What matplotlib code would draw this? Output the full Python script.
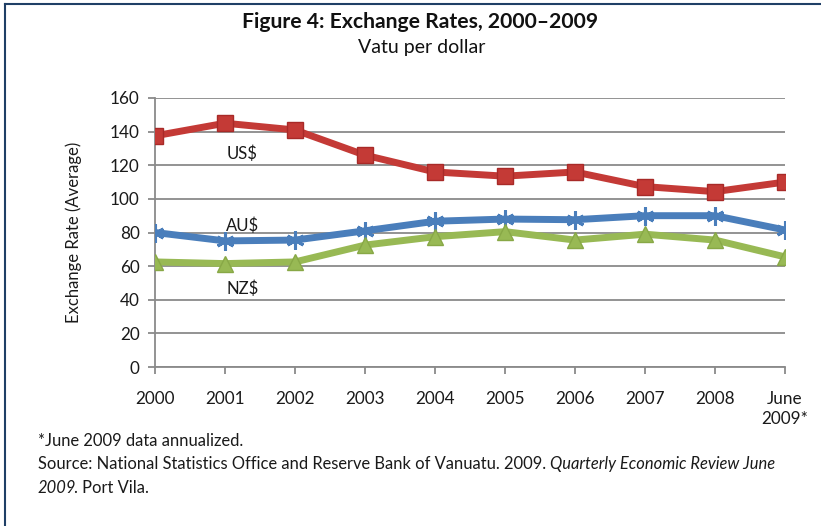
import numpy as np
import matplotlib
matplotlib.use("Agg")
import matplotlib.pyplot as plt
from matplotlib.lines import Line2D

plt.rcParams['font.family'] = ['Lato', 'DejaVu Sans']

years = ['2000', '2001', '2002', '2003', '2004', '2005', '2006', '2007', '2008', 'June\n2009*']
usd = [137.5, 145, 141, 126, 116, 113.5, 116, 107.3, 104.3, 110]
aud = [80, 75, 75.5, 81, 86.7, 88, 87.6, 90, 90, 81.5]
nzd = [62.5, 61.5, 62.5, 72.5, 77.5, 80.5, 75.5, 79, 75.5, 65.5]
yticks = [0, 20, 40, 60, 80, 100, 120, 140, 160]

fig = plt.figure(figsize=(8.21, 5.26), dpi=100)
ax = fig.add_axes([155 / 821, 1 - 367 / 526, 630 / 821, 269 / 526])

x = np.arange(len(years))
ax.plot(x, usd, color='#C43A36', lw=5, marker='s', ms=11, mfc='#C43A36', mec='#A82A28', zorder=3)
ax.plot(x, aud, color='#4A7EBB', lw=5, marker=(6, 2, 0), ms=13, mew=2.2, mec='#4A7EBB', zorder=3)
ax.plot(x, nzd, color='#98B954', lw=5, marker='^', ms=11, mfc='#98B954', mec='#88A846', zorder=3)

ax.set_xlim(0, 9)
ax.set_ylim(0, 160)
ax.set_yticks(yticks)
ax.set_xticks(x)
ax.set_xticklabels(years, linespacing=1.35)
ax.grid(axis='y', color='#8a8a8a', lw=1.3)
ax.set_axisbelow(True)
for s in ['top', 'right']:
    ax.spines[s].set_visible(False)
for s in ['left', 'bottom']:
    ax.spines[s].set_color('#8a8a8a')
    ax.spines[s].set_linewidth(1.3)
ax.tick_params(axis='both', colors='#8a8a8a', labelcolor='#1a1a1a', labelsize=12.3, length=5, width=1.3)
ax.tick_params(axis='x', pad=12)
ax.tick_params(axis='y', pad=6)
ax.set_ylabel('Exchange Rate (Average)', fontsize=12, color='#1a1a1a', labelpad=20)

ax.text(1.25, 127, 'US$', fontsize=12, ha='center', va='center', color='#1a1a1a')
ax.text(1.25, 84, 'AU$', fontsize=12, ha='center', va='center', color='#1a1a1a')
ax.text(1.25, 46.5, 'NZ$', fontsize=12, ha='center', va='center', color='#1a1a1a')

fig.text(420 / 821, 1 - 22 / 526, 'Figure 4: Exchange Rates, 2000\u20132009', fontsize=15.2,
         fontweight='bold', ha='center', va='center', color='#111111')
fig.text(422 / 821, 1 - 48 / 526, 'Vatu per dollar', fontsize=14, ha='center', va='center', color='#111111')

fs = 11.9
fig.text(38 / 821, 1 - 441 / 526, '*June 2009 data annualized.', fontsize=fs, va='center', color='#1a1a1a')
t1 = fig.text(38 / 821, 1 - 464 / 526,
              'Source: National Statistics Office and Reserve Bank of Vanuatu. 2009. ',
              fontsize=fs, va='center', color='#1a1a1a')
fig.canvas.draw()
bb = t1.get_window_extent()
fig.text(bb.x1 / 821, 1 - 464 / 526, 'Quarterly Economic Review June', fontsize=fs,
         va='center', style='italic', color='#1a1a1a')
t2 = fig.text(38 / 821, 1 - 488 / 526, '2009', fontsize=fs, va='center', style='italic', color='#1a1a1a')
fig.canvas.draw()
bb2 = t2.get_window_extent()
fig.text((bb2.x1 - 3) / 821, 1 - 488 / 526, '. Port Vila.', fontsize=fs, va='center', color='#1a1a1a')

# frame lines (top and left)
fig.add_artist(Line2D([5 / 821, 1], [1 - 4 / 526, 1 - 4 / 526], transform=fig.transFigure, color='#1F3F66', lw=1.5))
fig.add_artist(Line2D([5 / 821, 5 / 821], [0, 1 - 4 / 526], transform=fig.transFigure, color='#1F3F66', lw=1.5))

fig.savefig('out.png', dpi=100)
